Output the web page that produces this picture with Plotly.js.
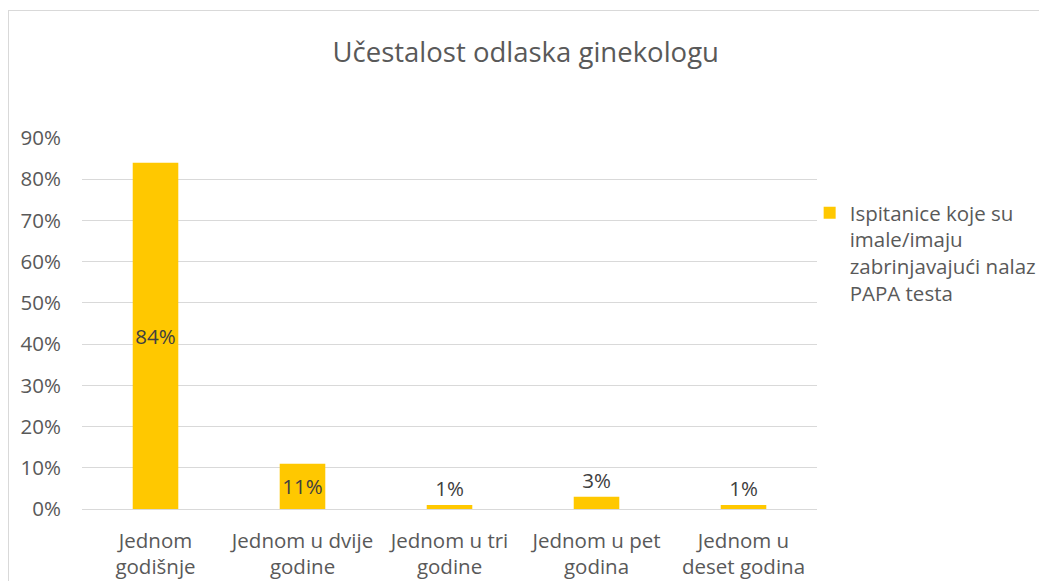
<!DOCTYPE html>
<html>
<head>
<meta charset="utf-8">
<script src="https://cdn.plot.ly/plotly-3.0.1.min.js"></script>
<style>
html,body{margin:0;padding:0;background:#fff;}
#wrap{position:relative;width:1039px;height:581px;overflow:hidden;}
#chart{width:1039px;height:581px;}
#frame{position:absolute;left:8px;top:10px;width:1100px;height:700px;border:1px solid #D9D9D9;pointer-events:none;box-sizing:border-box;}
</style>
</head>
<body>
<div id="wrap">
<div id="chart"></div>
<div id="frame"></div>
</div>
<script>
var categories = [
  "Jednom<br>godišnje",
  "Jednom u dvije<br>godine",
  "Jednom u tri<br>godine",
  "Jednom u pet<br>godina",
  "Jednom u<br>deset godina"
];
var values = [0.84, 0.11, 0.01, 0.03, 0.01];
var valueLabels = ["84%", "11%", "1%", "3%", "1%"];
var seriesName = "Ispitanice koje su<br>imale/imaju<br>zabrinjavajući nalaz<br>PAPA testa";
var yTickVals = [0, 0.1, 0.2, 0.3, 0.4, 0.5, 0.6, 0.7, 0.8, 0.9];
var yTickText = ["0%", "10%", "20%", "30%", "40%", "50%", "60%", "70%", "80%", "90%"];
var titleText = "Učestalost odlaska ginekologu";

var FONT = "Open Sans, Liberation Sans, sans-serif";
var FS = 20.5;
var trace = {
  type: "bar",
  x: categories,
  y: values,
  name: seriesName,
  text: valueLabels,
  textposition: "auto",
  insidetextanchor: "middle",
  textangle: 0,
  constraintext: "none",
  insidetextfont: {family: FONT, size: FS, color: "#404040"},
  outsidetextfont: {family: FONT, size: FS, color: "#404040"},
  marker: {color: "#FFC800"},
  width: 0.31,
  hoverinfo: "none",
  cliponaxis: false
};

var layout = {
  width: 1039,
  height: 581,
  margin: {l: 82, r: 222, t: 138, b: 72, autoexpand: false},
  paper_bgcolor: "rgba(0,0,0,0)",
  plot_bgcolor: "rgba(0,0,0,0)",
  font: {family: FONT, color: "#595959", size: FS},
  title: {
    text: titleText,
    font: {family: FONT, size: 27.5, color: "#595959"},
    x: 0.506, xref: "container", xanchor: "center",
    y: 0.91, yref: "container", yanchor: "middle"
  },
  showlegend: true,
  legend: {
    x: 0.990, xanchor: "left",
    y: 0.852, yanchor: "top",
    valign: "top",
    font: {family: FONT, size: FS, color: "#595959"},
    itemwidth: 30,
    bgcolor: "rgba(0,0,0,0)"
  },
  xaxis: {
    type: "category",
    showgrid: false,
    showline: true,
    linecolor: "#D9D9D9",
    linewidth: 1,
    ticks: "",
    ticklabelstandoff: 13,
    tickfont: {family: FONT, size: FS, color: "#595959"},
    fixedrange: true,
    automargin: false
  },
  yaxis: {
    range: [0, 0.9],
    tickvals: yTickVals,
    ticktext: yTickText,
    showgrid: true,
    gridcolor: "#D9D9D9",
    gridwidth: 1,
    zeroline: false,
    showline: false,
    ticks: "",
    ticklabelstandoff: 20,
    tickfont: {family: FONT, size: FS, color: "#595959"},
    fixedrange: true,
    automargin: false
  },
  bargap: 0.69
};

Plotly.newPlot("chart", [trace], layout, {displayModeBar: false, staticPlot: true});
</script>
</body>
</html>
